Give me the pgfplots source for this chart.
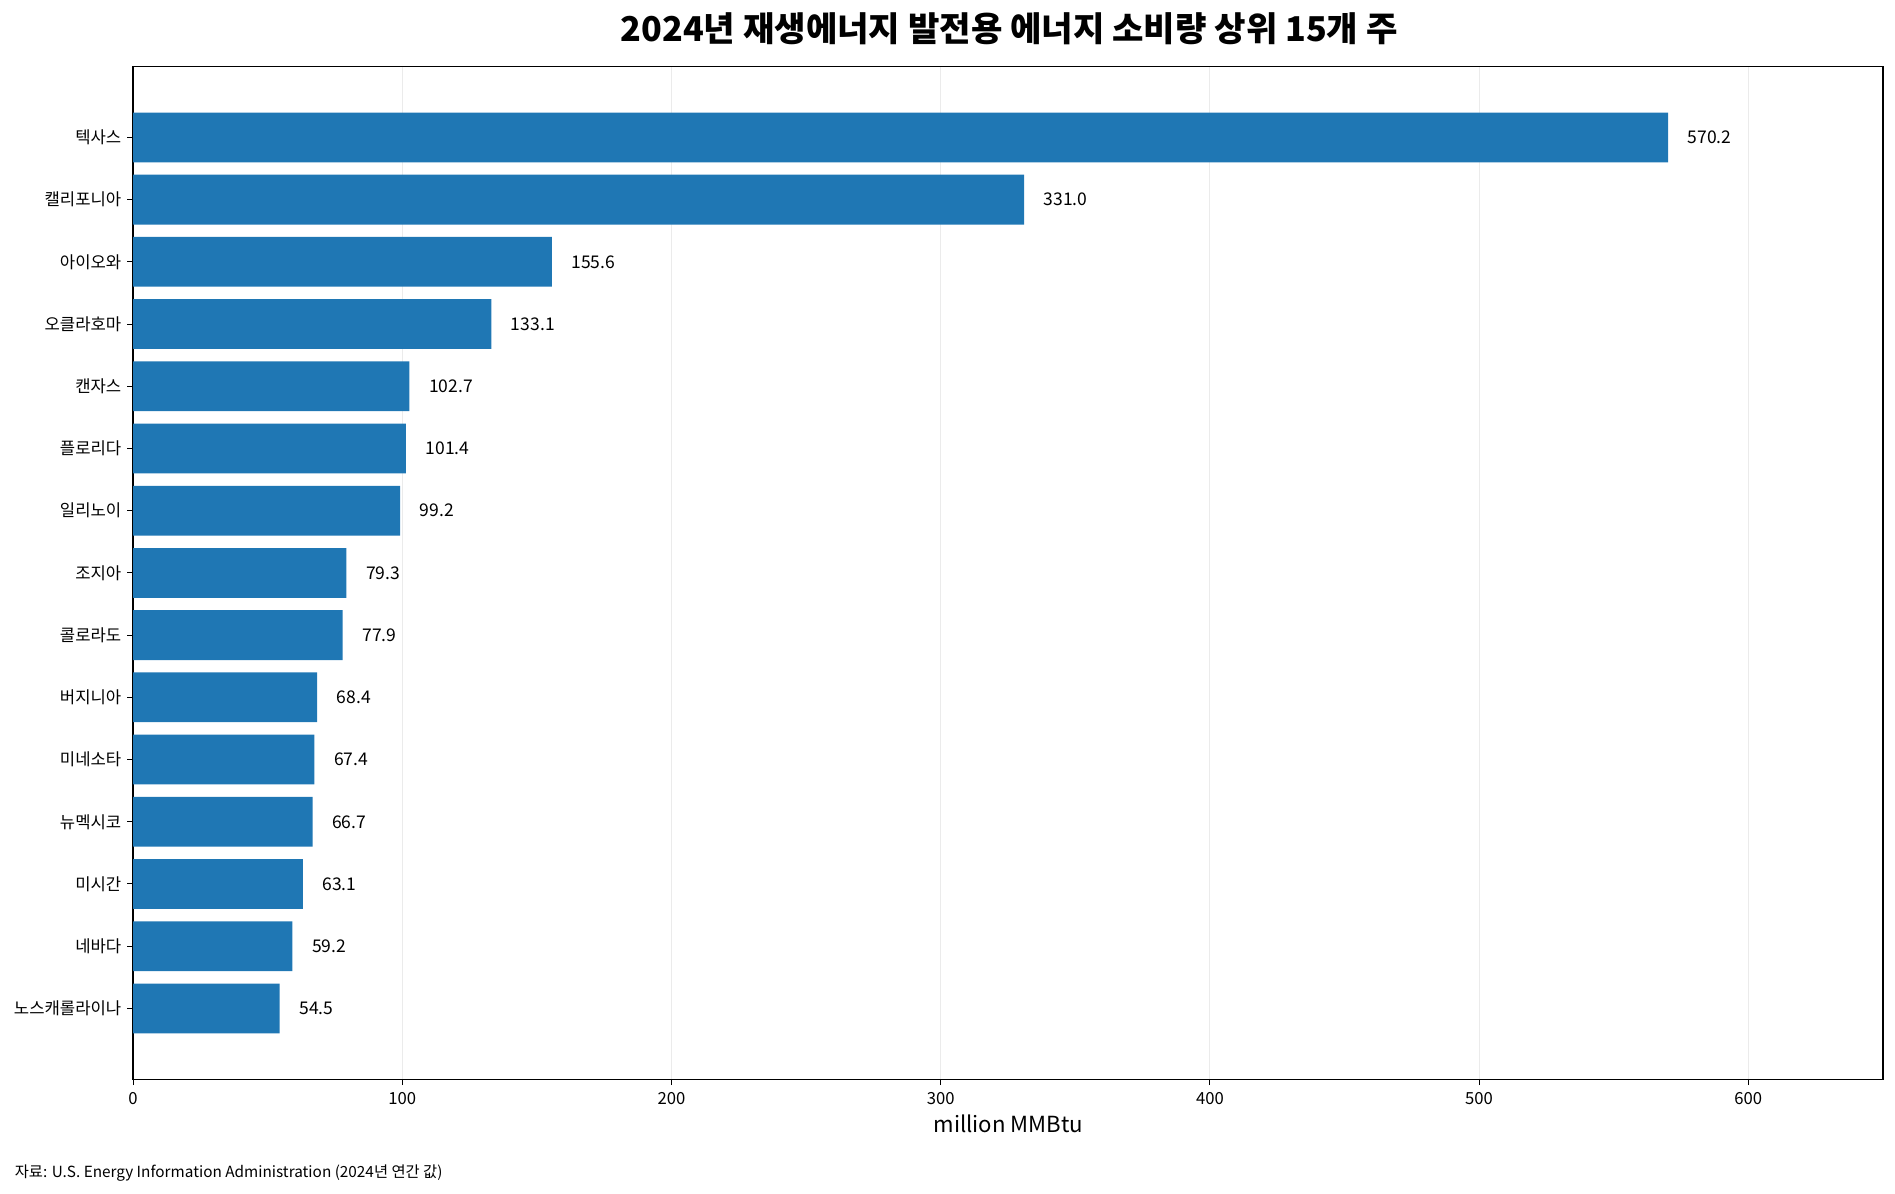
\documentclass[border=0pt]{standalone}
\usepackage{pgfplots}
\pgfplotsset{compat=1.18}
\usepackage{pgfplotstable}
\usepackage{fontspec}
\setmainfont{Noto Sans CJK KR}
\definecolor{barblue}{RGB}{31,119,180}
\definecolor{gridgray}{RGB}{235,235,235}
\pgfplotstableread{
idx value
0 570.2
1 331.0
2 155.6
3 133.1
4 102.7
5 101.4
6 99.2
7 79.3
8 77.9
9 68.4
10 67.4
11 66.7
12 63.1
13 59.2
14 54.5
}\datatable
\begin{document}
\begin{tikzpicture}
\useasboundingbox (0,0) rectangle (1137pt,716.4pt);
\begin{axis}[
  at={(79.8pt,68.8pt)}, anchor=south west,
  width=1050pt, height=607.7pt, scale only axis,
  xbar, bar width=0.8,
  xmin=0, xmax=650,
  ymin=-1.14, ymax=15.14, y dir=reverse,
  ytick={0,...,14},
  yticklabels={텍사스,캘리포니아,아이오와,오클라호마,캔자스,플로리다,일리노이,조지아,콜로라도,버지니아,미네소타,뉴멕시코,미시간,네바다,노스캐롤라이나},
  xtick={0,100,...,600},
  tick align=outside, xtick pos=bottom, ytick pos=left,
  major tick length=3.5pt,
  tick style={black, line width=0.6pt},
  axis line style={black, line width=0.8pt},
  xmajorgrids, grid style={gridgray, line width=0.6pt},
  ticklabel style={font=\fontsize{10}{12}\selectfont},
  /pgf/number format/assume math mode=true,
  xticklabel style={yshift=-1pt},
  nodes near coords,
  point meta=x,
  nodes near coords style={font=\fontsize{10.5}{12}\selectfont, anchor=west, inner sep=0pt, xshift=11.6pt,
    /pgf/number format/.cd, fixed, fixed zerofill, precision=1, assume math mode=true},
]
\addplot[fill=barblue, draw=none] table[x=value, y=idx] {\datatable};
\end{axis}
\node[font=\fontsize{20.5}{24}\selectfont\bfseries] at (605.5pt,699.4pt) {2024년 재생에너지 발전용 에너지 소비량 상위 15개 주};
\node[font=\fontsize{13.3}{16}\selectfont] at (605pt,42pt) {million MMBtu};
\node[font=\fontsize{9.2}{11}\selectfont, anchor=west, inner sep=0pt] at (8.7pt,12.3pt) {자료: U.S. Energy Information Administration (2024년 연간 값)};
\end{tikzpicture}
\end{document}
